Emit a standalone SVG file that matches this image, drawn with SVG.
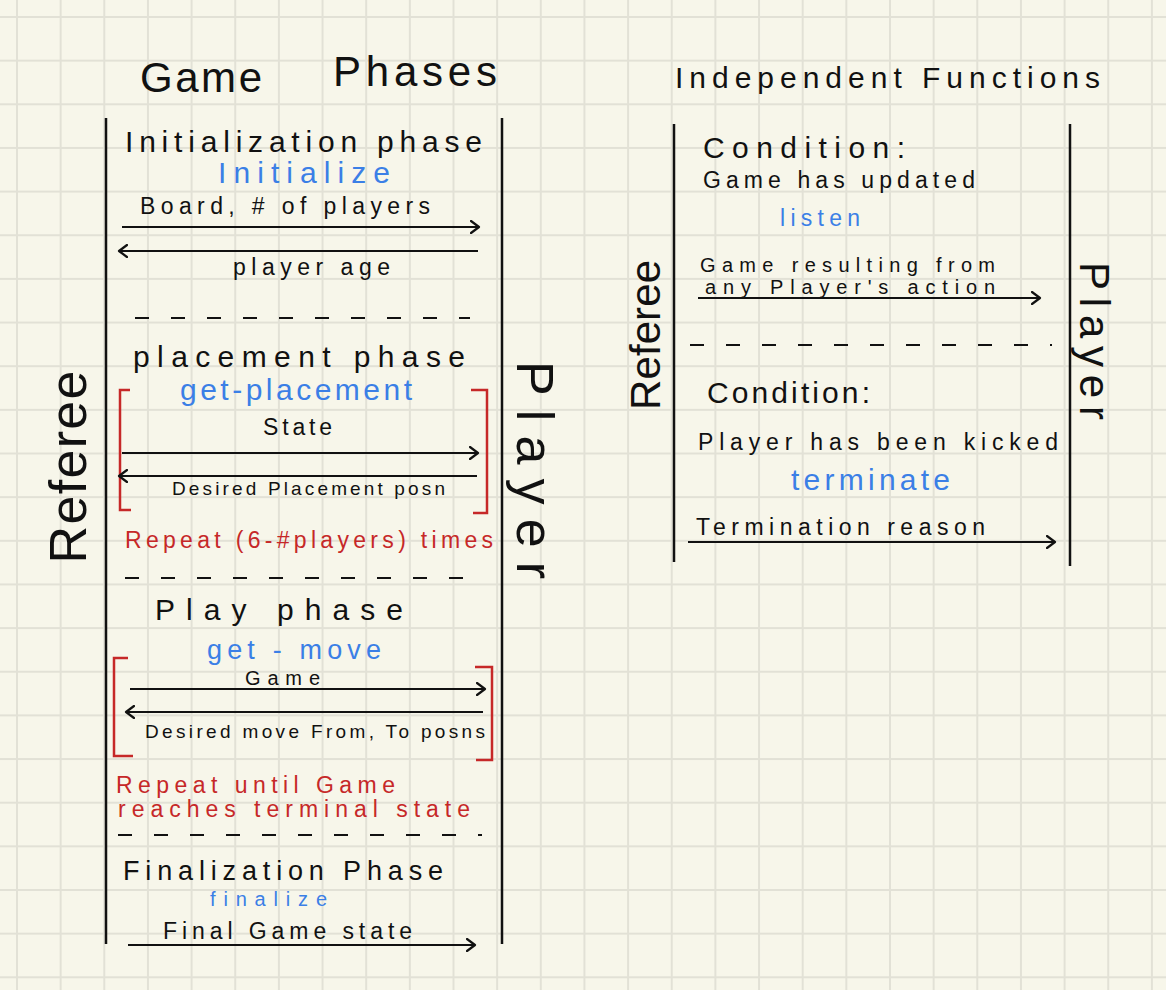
<svg xmlns="http://www.w3.org/2000/svg" width="1166" height="990" viewBox="0 0 1166 990">
<defs>
<pattern id="grid" x="16" y="16" width="43.65" height="43.65" patternUnits="userSpaceOnUse">
<path d="M1 0V43.65M0 1H43.65" stroke="#e2e1d6" stroke-width="2" fill="none"/>
</pattern>
<marker id="arr" markerWidth="12" markerHeight="14" refX="9" refY="7" orient="auto" markerUnits="userSpaceOnUse">
<path d="M1,1 L9,7 L1,13" fill="none" stroke="#111" stroke-width="2.2" stroke-linecap="round" stroke-linejoin="round"/>
</marker>
<style>
text{font-family:"Liberation Sans","DejaVu Sans",sans-serif;fill:#111}
.life{stroke:#111;stroke-width:2.5}
.msg{stroke:#111;stroke-width:2.2;fill:none;marker-end:url(#arr)}
.dash{stroke:#111;stroke-width:2;stroke-dasharray:14 22}
.br{stroke:#c62828;stroke-width:2.5;fill:none}
.blue{fill:#3b7fe6}
.red{fill:#c62828}
.h1{font-size:42px}
.h2{font-size:30px}
.h3{font-size:27px}
.m{font-size:23px}
.t{font-size:20px}
.s{font-size:19px}
.life-label{font-size:52px}
</style>
</defs>
<rect width="1166" height="990" fill="#f7f6ea"/>
<rect width="1166" height="990" fill="url(#grid)"/>

<g id="title-left">
<text class="h1" x="140" y="92" textLength="122">Game</text>
<text class="h1" x="333" y="86" textLength="164">Phases</text>
</g>
<g id="title-right">
<text class="h2" x="675" y="88" textLength="425">Independent Functions</text>
</g>

<g id="referee-left">
<line class="life" x1="106" y1="118" x2="106" y2="944"/>
<text class="life-label" transform="translate(86,467) rotate(-90)" text-anchor="middle" textLength="193">Referee</text>
</g>
<g id="player-left">
<line class="life" x1="502" y1="118" x2="502" y2="944"/>
<text class="life-label" transform="translate(517,470) rotate(90)" text-anchor="middle" textLength="218">Player</text>
</g>
<g id="referee-right">
<line class="life" x1="674" y1="124" x2="674" y2="562"/>
<text class="h1" transform="translate(660,335) rotate(-90)" text-anchor="middle" textLength="150">Referee</text>
</g>
<g id="player-right">
<line class="life" x1="1070" y1="124" x2="1070" y2="566"/>
<text class="h1" transform="translate(1080,341) rotate(90)" text-anchor="middle" textLength="158">Player</text>
</g>

<g id="phase-init">
<text class="h2" x="125" y="152" textLength="357">Initialization phase</text>
<text class="h2 blue" x="218" y="183" textLength="172">Initialize</text>
<text class="m" x="140" y="214" textLength="290">Board, # of players</text>
<text class="m" x="233" y="275" textLength="157">player age</text>
</g>
<g id="phase-placement">
<text class="h2" x="133" y="367" textLength="332">placement phase</text>
<path class="br" d="M130,390 H120 V510 H131"/>
<path class="br" d="M471,390 H487 V513 H473"/>
<text class="h2 blue" x="180" y="400" textLength="232">get-placement</text>
<text class="m" x="263" y="435" textLength="69">State</text>
<text class="s" x="172" y="495" textLength="273">Desired Placement posn</text>
<text class="m red" x="125" y="548" textLength="368">Repeat (6-#players) times</text>
</g>
<g id="phase-play">
<text class="h2" x="155" y="620" textLength="248">Play phase</text>
<text class="h3 blue" x="207" y="659" textLength="174">get - move</text>
<path class="br" d="M128,658 H114 V756 H133"/>
<path class="br" d="M475,667 H492 V760 H476"/>
<text class="t" x="245" y="685" textLength="75">Game</text>
<text class="s" x="145" y="738" textLength="340">Desired move From, To posns</text>
<text class="m red" x="116" y="793" textLength="279">Repeat until Game</text>
<text class="m red" x="118" y="817" textLength="352">reaches terminal state</text>
</g>
<g id="phase-final">
<text class="h3" x="123" y="880" textLength="320">Finalization Phase</text>
<text class="t blue" x="210" y="906" textLength="117">finalize</text>
<text class="m" x="163" y="939" textLength="249">Final Game state</text>
</g>

<g id="func-listen">
<text class="h2" x="703" y="158" textLength="202">Condition:</text>
<text class="m" x="703" y="188" textLength="272">Game has updated</text>
<text class="m blue" x="780" y="226" textLength="80">listen</text>
<text class="t" x="700" y="272" textLength="295">Game resulting from</text>
<text class="t" x="705" y="294" textLength="290">any Player's action</text>
</g>
<g id="func-terminate">
<text class="h2" x="707" y="403" textLength="163">Condition:</text>
<text class="m" x="698" y="450" textLength="360">Player has been kicked</text>
<text class="h2 blue" x="791" y="490" textLength="159">terminate</text>
<text class="m" x="696" y="535" textLength="289">Termination reason</text>
</g>

<g id="connectors">
<line class="msg" x1="122" y1="227" x2="479" y2="227"/>
<line class="msg" x1="478" y1="251" x2="119" y2="251"/>
<line class="msg" x1="122" y1="453" x2="478" y2="453"/>
<line class="msg" x1="477" y1="476" x2="119" y2="476"/>
<line class="msg" x1="130" y1="689" x2="485" y2="689"/>
<line class="msg" x1="483" y1="712" x2="126" y2="712"/>
<line class="msg" x1="128" y1="945" x2="475" y2="945"/>
<line class="msg" x1="698" y1="298" x2="1040" y2="298"/>
<line class="msg" x1="688" y1="542" x2="1055" y2="542"/>
<line class="dash" x1="135" y1="318" x2="470" y2="318"/>
<line class="dash" x1="125" y1="578" x2="482" y2="578"/>
<line class="dash" x1="118" y1="835" x2="482" y2="835"/>
<line class="dash" x1="690" y1="345" x2="1052" y2="345"/>
</g>
</svg>
